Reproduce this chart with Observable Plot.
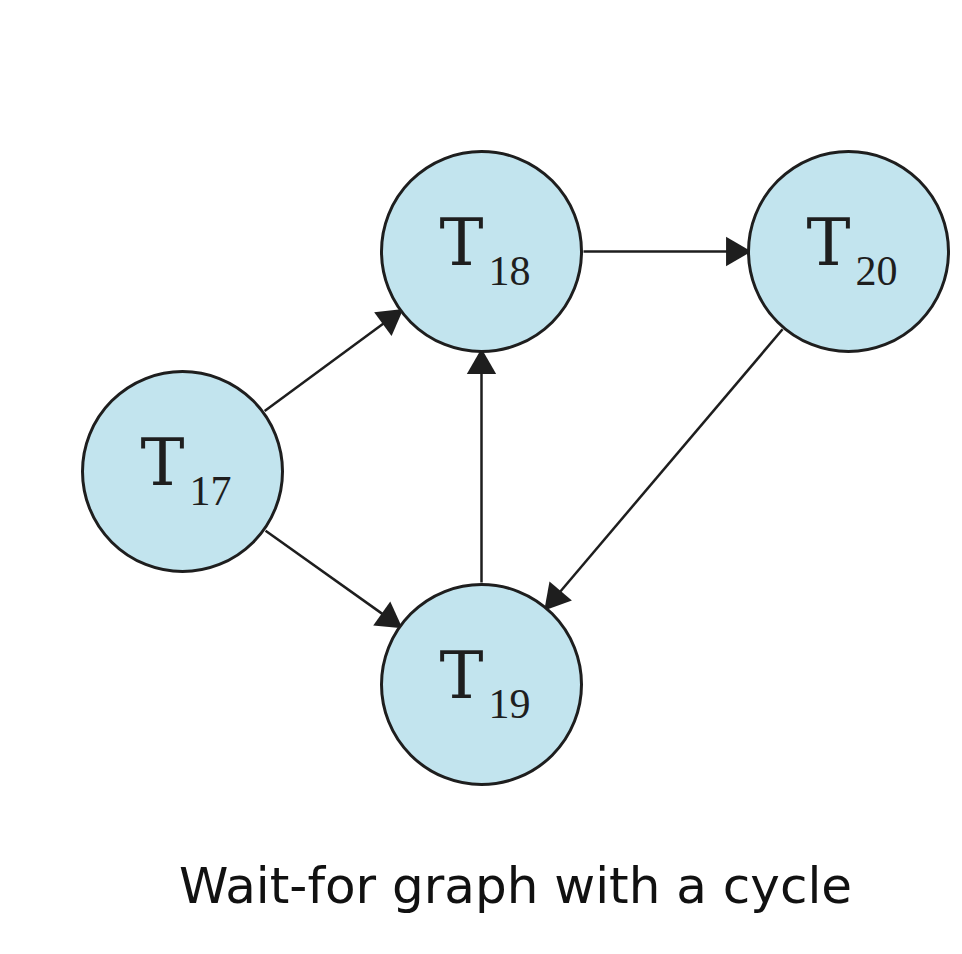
<!DOCTYPE html>
<html>
<head>
<meta charset="utf-8">
<script src="https://cdn.jsdelivr.net/npm/d3@7"></script>
<script src="https://cdn.jsdelivr.net/npm/@observablehq/plot@0.6"></script>
<style>body{margin:0;background:#fff}</style>
</head>
<body>
<div id="chart"></div>
<script>
const nodeIds = ['17', '18', '19', '20']
const nodeX = [182, 481, 481, 848]
const nodeY = [471, 251, 684, 251]
const edgeFrom = ['17', '17', '19', '18', '20']
const edgeTo = ['18', '19', '18', '20', '19']
const caption = 'Wait-for graph with a cycle'

const R = 100
const nodes = nodeIds.map((id, i) => ({id, x: nodeX[i], y: nodeY[i]}))
const byId = Object.fromEntries(nodes.map(n => [n.id, n]))
const edges = edgeFrom.map((f, i) => {
  const a = byId[f], b = byId[edgeTo[i]]
  const dx = b.x - a.x, dy = b.y - a.y, L = Math.hypot(dx, dy)
  const ux = dx / L, uy = dy / L
  return {
    x1: a.x + ux * (R + 2), y1: a.y + uy * (R + 2),
    x2: b.x - ux * (R + 20), y2: b.y - uy * (R + 20),
    hx: b.x - ux * (R + 14), hy: b.y - uy * (R + 14),
    rot: Math.atan2(dx, -dy) * 180 / Math.PI
  }
})

const chart = Plot.plot({
  width: 962,
  height: 954,
  margin: 0,
  x: {domain: [0, 962], range: [0, 962], axis: null},
  y: {domain: [0, 954], range: [0, 954], axis: null},
  marks: [
    Plot.link(edges, {x1: 'x1', y1: 'y1', x2: 'x2', y2: 'y2', stroke: '#1e1e1e', strokeWidth: 2.5}),
    Plot.dot(edges, {x: 'hx', y: 'hy', rotate: 'rot', symbol: 'triangle2', r: 14, fill: '#1e1e1e', stroke: 'none'}),
    Plot.dot(nodes, {x: 'x', y: 'y', r: R, fill: '#c2e4ee', stroke: '#1e1e1e', strokeWidth: 3}),
    Plot.text(nodes, {x: 'x', y: 'y', text: () => 'T', dx: -20, dy: -8, fontSize: 66, fontFamily: 'DejaVu Serif, Liberation Serif, serif', fill: '#1e1e1e'}),
    Plot.text(nodes, {x: 'x', y: 'y', text: d => d.id, dx: 28, dy: 20, fontSize: 42, fontFamily: 'Liberation Serif, serif', fill: '#1e1e1e'}),
    Plot.text([caption], {x: 515, y: 886, text: d => d, fontSize: 50, fontFamily: 'DejaVu Sans, sans-serif', fill: '#111'})
  ]
})
document.getElementById('chart').append(chart)
</script>
</body>
</html>
